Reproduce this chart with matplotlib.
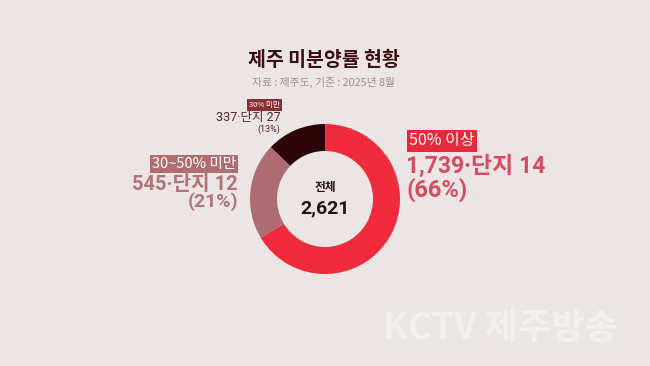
import matplotlib
matplotlib.use("Agg")
import matplotlib.pyplot as plt

plt.rcParams['font.family'] = ['Noto Sans CJK KR', 'DejaVu Sans']
NUMFONT = ['Roboto', 'Noto Sans CJK KR']

# ---- data ----
categories = ['50% 이상', '30~50% 미만', '30% 미만']
units = [1739, 545, 337]
complexes = [14, 12, 27]
shares = [66, 21, 13]
total = 2621
title = '제주 미분양률 현황'
subtitle = '자료 : 제주도, 기준 : 2025년 8월'
center_label = '전체'
watermark = 'KCTV 제주방송'

ring_colors = ['#ef2b3d', '#ad6c71', '#2c0407']
box_colors = ['#e8283b', '#b06e73', '#8a2f35']
value_colors = ['#d94b60', '#b0757b', '#55262a']
BG = '#ebe5e5'

W, H = 650, 366
fig = plt.figure(figsize=(W / 100, H / 100), dpi=100, facecolor=BG)


def fx(x):
    return x / W


def fy(y):
    return 1 - y / H


# ---- donut ----
cx, cy, r = 325, 199, 75
ax = fig.add_axes([fx(cx - r), fy(cy + r), 2 * r / W, 2 * r / H])
ax.set_facecolor(BG)
ax.pie(units, colors=ring_colors, startangle=90, counterclock=False,
       radius=1.0, wedgeprops=dict(width=0.36, edgecolor='none'))
ax.set_xlim(-1, 1)
ax.set_ylim(-1, 1)
ax.set_aspect('equal')
ax.axis('off')

# centre text
fig.text(fx(cx), fy(187), center_label, ha='center', va='center',
         fontsize=8.5, fontweight='bold', color='#2a1214')
fig.text(fx(cx), fy(208), f'{total:,}', ha='center', va='center',
         fontsize=14, fontweight='bold', color='#2a1214', family=NUMFONT)

# ---- title ----
fig.text(fx(324), fy(60), title, ha='center', va='center',
         fontsize=14, fontweight='bold', color='#3a0e12')
fig.text(fx(323), fy(82), subtitle, ha='center', va='center',
         fontsize=7.8, color='#a48c8f')

# ---- labels ----
# right: >=50%
fig.text(fx(409), fy(141), categories[0], ha='left', va='center',
         fontsize=11.5, color='white',
         bbox=dict(boxstyle='square,pad=0.15', fc=box_colors[0], ec='none'))
fig.text(fx(406), fy(166), f'{units[0]:,}·단지 {complexes[0]}', ha='left',
         va='center', fontsize=16.5, color=value_colors[0], fontweight='bold',
         family=NUMFONT)
fig.text(fx(406), fy(190), f'({shares[0]}%)', ha='left', va='center',
         fontsize=17, color=value_colors[0], fontweight='bold',
         family=NUMFONT)

# left: 30~50%
fig.text(fx(236), fy(164), categories[1], ha='right', va='center',
         fontsize=10.5, color='white',
         bbox=dict(boxstyle='square,pad=0.15', fc=box_colors[1], ec='none'))
fig.text(fx(238), fy(184), f'{units[1]:,}·단지 {complexes[1]}', ha='right',
         va='center', fontsize=14.5, color=value_colors[1], fontweight='bold',
         family=NUMFONT)
fig.text(fx(238), fy(202), f'({shares[1]}%)', ha='right', va='center',
         fontsize=14, color=value_colors[1], fontweight='bold',
         family=NUMFONT)

# top-left: <30%
fig.text(fx(280), fy(105), categories[2], ha='right', va='center',
         fontsize=5.5, color='white',
         bbox=dict(boxstyle='square,pad=0.2', fc=box_colors[2], ec='none'))
fig.text(fx(281), fy(117), f'{units[2]:,}·단지 {complexes[2]}', ha='right',
         va='center', fontsize=9, color=value_colors[2], family=NUMFONT)
fig.text(fx(280), fy(129), f'({shares[2]}%)', ha='right', va='center',
         fontsize=6.5, color=value_colors[2], family=NUMFONT)

# watermark
fig.text(fx(500), fy(329), watermark, ha='center', va='center',
         fontsize=26, fontweight='bold', color='#f3efef')

fig.savefig('out.png', dpi=100, facecolor=BG)
